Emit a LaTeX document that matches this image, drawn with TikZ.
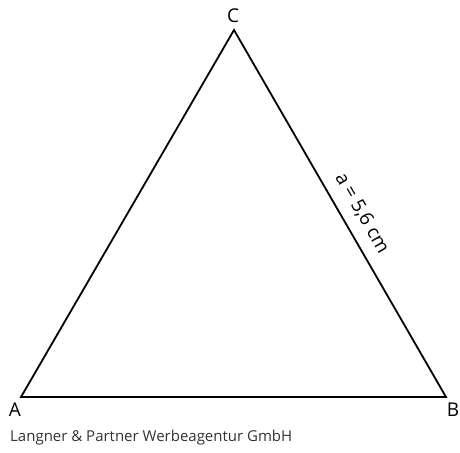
\documentclass[tikz,border=0pt]{standalone}
\usepackage{fontspec}
\setmainfont{Open Sans}
\begin{document}
\begin{tikzpicture}[x=1pt,y=-1pt,
  side/.style={line width=1.8pt, line join=miter},
  vlabel/.style={font=\fontsize{19}{19}\selectfont, inner sep=0pt},
  foot/.style={font=\fontsize{15}{15}\selectfont, inner sep=0pt, anchor=west, text=black!80}]
\useasboundingbox (0,0) rectangle (460,452);
\coordinate (A) at (21,397);
\coordinate (B) at (446,397);
\coordinate (C) at (234,30);
\draw[side] (A) -- (B) -- (C) -- cycle;
\node[vlabel] (lC) at (233,16) {C};
\node[vlabel] (lA) at (15,410) {A};
\node[vlabel] (lB) at (453,410) {B};
\node[vlabel, rotate=-60] (la) at (362,213) {a = 5,6 cm};
\node[foot] (ft) at (10,438) {Langner \& Partner Werbeagentur GmbH};
\end{tikzpicture}
\end{document}
